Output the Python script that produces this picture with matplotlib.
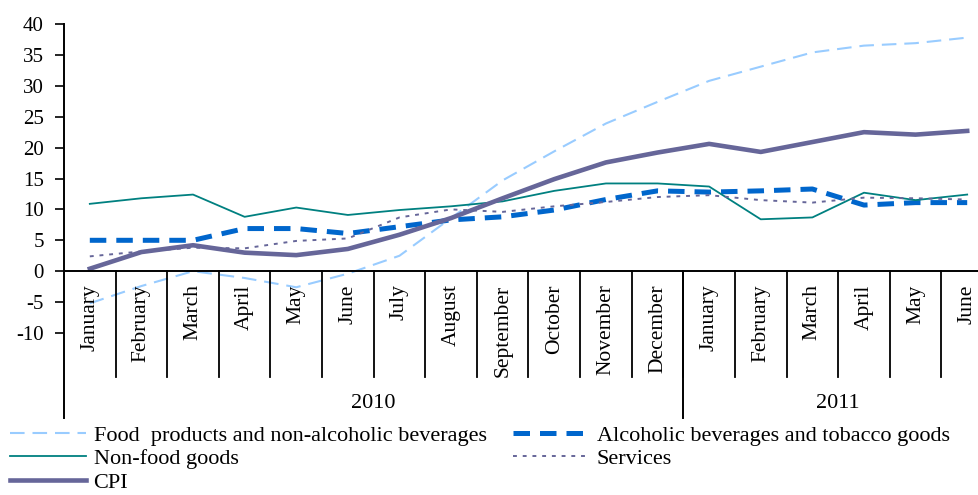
"""Price growth by component, 2010-2011 (yoy, %)."""

import matplotlib

matplotlib.use("Agg")
import matplotlib.pyplot as plt
from matplotlib.lines import Line2D
from matplotlib.transforms import blended_transform_factory

plt.rcParams["font.family"] = ["Liberation Serif", "DejaVu Serif"]
plt.rcParams["axes.unicode_minus"] = False

months = ["January", "February", "March", "April", "May", "June", "July",
          "August", "September", "October", "November", "December",
          "January", "February", "March", "April", "May", "June"]
years = ["2010", "2011"]
year_lengths = [12, 6]

food = [-5.2, -2.4, 0.0, -1.1, -2.6, -0.4, 2.5, 8.6, 14.7, 19.4, 23.9, 27.4,
        30.8, 33.1, 35.4, 36.5, 36.9, 37.8]
alcohol = [5.0, 5.0, 5.0, 6.9, 6.9, 6.1, 7.2, 8.3, 8.8, 9.9, 11.6, 13.0,
           12.8, 13.0, 13.3, 10.7, 11.1, 11.1]
non_food = [10.9, 11.8, 12.4, 8.8, 10.3, 9.1, 9.9, 10.5, 11.3, 13.0, 14.2, 14.2,
            13.7, 8.4, 8.7, 12.7, 11.5, 12.4]
services = [2.4, 3.2, 3.8, 3.7, 4.9, 5.3, 8.7, 10.0, 9.6, 10.5, 11.2, 12.0,
            12.3, 11.5, 11.1, 11.9, 11.8, 11.6]
cpi = [0.4, 3.1, 4.2, 3.0, 2.6, 3.6, 5.9, 8.6, 11.8, 14.9, 17.6, 19.2,
       20.6, 19.3, 20.9, 22.5, 22.1, 22.7]

W, H = 979, 495
fig = plt.figure(figsize=(W / 100, H / 100), dpi=100)
# plot area runs past the right edge of the picture, as in the source
ax = fig.add_axes([64 / W, 1 - 333 / H, 929 / W, 309 / H])

x = [i + 0.5 for i in range(len(months))]
l_food, = ax.plot(x, food, color="#99CCFF", lw=1.5, dashes=(7, 3.8),
                  label="Food  products and non-alcoholic beverages")
l_alc, = ax.plot(x, alcohol, color="#0066CC", lw=3.6, dashes=(3.3, 2),
                 label="Alcoholic beverages and tobacco goods")
l_nf, = ax.plot(x, non_food, color="#008080", lw=1.3, label="Non-food goods")
l_srv, = ax.plot(x, services, color="#666699", lw=1.4, dashes=(2, 3),
                 label="Services")
l_cpi, = ax.plot(x, cpi, color="#666699", lw=3.3, label="CPI")

ax.set_xlim(0, len(months))
ax.set_ylim(-10, 40)
ax.set_yticks(range(-10, 41, 5))
ax.set_xticks([])
for side in ["top", "right", "bottom", "left"]:
    ax.spines[side].set_visible(False)
ax.tick_params(axis="y", direction="out", length=6.5, width=1.2, pad=8,
               labelsize=15, colors="black")
ax.axhline(0, color="black", lw=1.4)

# category boxes under the zero line
tr = blended_transform_factory(ax.transData, ax.transAxes)
zero = 10 / 50
month_bottom = zero - 106 / 309
year_bottom = zero - 147 / 309
ax.add_line(Line2D([0, 0], [year_bottom, 1], transform=tr, color="black",
                   lw=1.4, clip_on=False))
edge = 0
for n in year_lengths:
    edge += n
    if edge < len(months):
        ax.add_line(Line2D([edge, edge], [year_bottom, zero], transform=tr,
                           color="black", lw=1.4, clip_on=False))
for i in range(1, len(months)):
    ax.add_line(Line2D([i, i], [month_bottom, zero], transform=tr,
                       color="black", lw=1.3, clip_on=False))

for xi, name in zip(x, months):
    ax.annotate(name, xy=(xi, 0), xytext=(0, -9.5), textcoords="offset points",
                rotation=90, ha="center", va="top", fontsize=15.5)

start = 0
for name, n in zip(years, year_lengths):
    ax.annotate(name, xy=(start + n / 2, 0), xytext=(0, -95),
                textcoords="offset points", ha="center", va="center",
                fontsize=16)
    start += n

fig.legend(handles=[l_food, l_nf, l_cpi, l_alc, l_srv], ncol=2,
           loc="upper left", bbox_to_anchor=(10 / W, 1 - 425 / H),
           frameon=False, fontsize=16, borderpad=0, borderaxespad=0,
           handlelength=3.4, handletextpad=0.36, columnspacing=1.2,
           labelspacing=0.14)

fig.savefig("out.png", dpi=100)
